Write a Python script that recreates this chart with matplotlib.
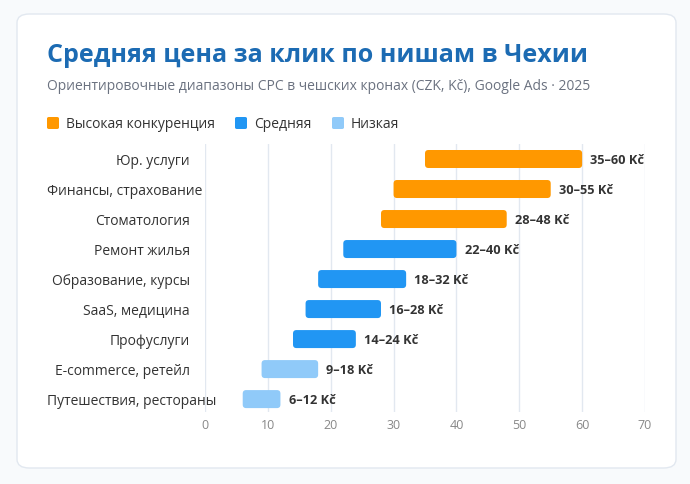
import matplotlib.pyplot as plt
from matplotlib.patches import FancyBboxPatch
from matplotlib.transforms import blended_transform_factory

plt.rcParams['font.family'] = ['Open Sans', 'DejaVu Sans']

# данные
niches = ["Юр. услуги", "Финансы, страхование", "Стоматология", "Ремонт жилья",
          "Образование, курсы", "SaaS, медицина", "Профуслуги",
          "E-commerce, ретейл", "Путешествия, рестораны"]
cpc_low = [35, 30, 28, 22, 18, 16, 14, 9, 6]
cpc_high = [60, 55, 48, 40, 32, 28, 24, 18, 12]
levels = ["high", "high", "high", "mid", "mid", "mid", "mid", "low", "low"]
level_names = {"high": "Высокая конкуренция", "mid": "Средняя", "low": "Низкая"}
level_colors = {"high": "#FF9800", "mid": "#2196F3", "low": "#90CAF9"}
xticks = [0, 10, 20, 30, 40, 50, 60, 70]

W, H = 690, 484
fig = plt.figure(figsize=(W / 100, H / 100), dpi=100)
fig.patch.set_facecolor("#f8fafc")

# карточка (под осями)
card = FancyBboxPatch((17 / W, 1 - 468 / H), 659 / W, 454 / H,
                      boxstyle="round,pad=0,rounding_size=0.018",
                      transform=fig.transFigure, facecolor="white",
                      edgecolor="#e2e8f0", linewidth=1, zorder=-1)
fig.patches.append(card)

fig.text(47 / W, 1 - 55 / H, "Средняя цена за клик по нишам в Чехии",
         fontsize=18, fontweight="bold", color="#1c6bb3", va="center")
fig.text(47 / W, 1 - 87 / H,
         "Ориентировочные диапазоны CPC в чешских кронах (CZK, Kč), Google Ads · 2025",
         fontsize=10, color="#6b7280", va="center")

# легенда
lx = 47
for key, dx in zip(["high", "mid", "low"], [0, 188, 285]):
    x0 = lx + dx
    fig.patches.append(FancyBboxPatch((x0 / W, 1 - 129 / H), 12 / W, 12 / H,
                                      boxstyle="round,pad=0,rounding_size=0.003",
                                      transform=fig.transFigure,
                                      facecolor=level_colors[key], edgecolor="none"))
    fig.text((x0 + 19) / W, 1 - 124 / H, level_names[key], fontsize=10,
             color="#333333", va="center")

# оси
ax = fig.add_axes([205 / W, 1 - 412 / H, 440 / W, 268 / H])
ax.set_facecolor("none")
ax.set_xlim(0, 70)
ax.set_ylim(8.43, -0.5)
ax.set_xticks(xticks)
ax.set_xticklabels([str(t) for t in xticks], color="#888888", fontsize=9)
ax.tick_params(axis="x", length=0, pad=5)
ax.set_yticks([])
ax.grid(axis="x", color="#e2e8f0", linewidth=1)
ax.set_axisbelow(True)
for s in ax.spines.values():
    s.set_visible(False)

# скругление баров с учётом разного масштаба осей
px_x = 440 / 70
px_y = 268 / 8.93
aspect = px_x / px_y
for i, (lo, hi, lv) in enumerate(zip(cpc_low, cpc_high, levels)):
    bar = FancyBboxPatch((lo, i - 0.3), hi - lo, 0.6,
                         boxstyle="round,pad=0,rounding_size=0.55",
                         mutation_aspect=aspect,
                         facecolor=level_colors[lv], edgecolor="none", zorder=2)
    ax.add_patch(bar)
    ax.annotate(f"{lo}–{hi} Kč", xy=(hi, i), xytext=(6, 0),
                textcoords="offset points", va="center_baseline", ha="left",
                fontsize=9.2, fontweight="bold", color="#333333")

# подписи категорий: справа у оси, длинные прижимаем к левому краю
trans = blended_transform_factory(fig.transFigure, ax.transData)
labels = []
for i, name in enumerate(niches):
    t = fig.text(190 / W, i, name, transform=trans, ha="right",
                 va="center_baseline", fontsize=10, color="#333333")
    labels.append(t)
renderer = fig.canvas.get_renderer()
for t in labels:
    bb = t.get_window_extent(renderer)
    if bb.x0 < 47:
        t.set_ha("left")
        t.set_x(47 / W)

fig.savefig("out.png", dpi=100, facecolor=fig.get_facecolor())
